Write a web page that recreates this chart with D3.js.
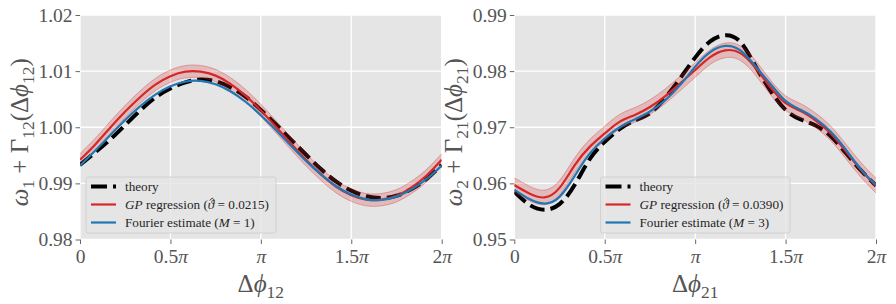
<!DOCTYPE html>
<html><head><meta charset="utf-8">
<script src="https://cdn.jsdelivr.net/npm/d3@7"></script>
<style>
body{margin:0;background:#fff}
svg{display:block}
text{font-family:"Liberation Serif","DejaVu Serif",serif}
</style>
</head><body>
<svg id="c" width="896" height="304"></svg>
<script>
// ---- data (phase in units of pi) ----
const phaseOverPi = [0, 1/12, 2/12, 3/12, 4/12, 5/12, 6/12, 7/12, 8/12, 9/12, 10/12, 11/12, 1,
  13/12, 14/12, 15/12, 16/12, 17/12, 18/12, 19/12, 20/12, 21/12, 22/12, 23/12, 2];

const xTickValues = [0, 0.5, 1, 1.5, 2];
const xTickLabels = ["0", "0.5π", "π", "1.5π", "2π"];

// left panel: omega_1 + Gamma_12
const yTicks1 = [0.98, 0.99, 1.00, 1.01, 1.02];
const theory1 = [0.9933,0.9955,0.9978,1.0004,1.0030,1.0053,1.0069,1.0080,1.0085,1.0082,1.0071,1.0054,1.0031,
  1.0005,0.9978,0.9951,0.9925,0.9903,0.9887,0.9877,0.9874,0.9878,0.9890,0.9908,0.9933];
const gp1 = [0.9942,0.9969,0.9999,1.0028,1.0054,1.0076,1.0091,1.0099,1.0099,1.0092,1.0077,1.0056,1.0030,
  1.0001,0.9971,0.9942,0.9916,0.9894,0.9879,0.9871,0.9871,0.9878,0.9893,0.9914,0.9942];
const gpStd1 = [0.0011,0.0011,0.0011,0.0011,0.0011,0.0011,0.0011,0.0011,0.0011,0.0011,0.0011,0.0011,0.0011,
  0.0011,0.0011,0.0011,0.0011,0.0011,0.0011,0.0011,0.0011,0.0011,0.0011,0.0011,0.0011];
const fourier1 = [0.99315,0.99580,0.99858,1.00129,1.00376,1.00581,1.00730,1.00814,1.00826,1.00766,1.00637,1.00450,1.00215,
  0.99950,0.99672,0.99401,0.99154,0.98949,0.98800,0.98716,0.98704,0.98764,0.98893,0.99080,0.99315];

// right panel: omega_2 + Gamma_21
const yTicks2 = [0.95, 0.96, 0.97, 0.98, 0.99];
const theory2 = [0.9585,0.9562,0.9553,0.9563,0.9597,0.9643,0.9674,0.9697,0.9712,0.9725,0.9752,0.9787,0.9824,
  0.9853,0.9864,0.9852,0.9809,0.9765,0.9731,0.9714,0.9703,0.9684,0.9654,0.9623,0.9596];
const gp2 = [0.9597,0.9582,0.9575,0.9592,0.9632,0.9665,0.9689,0.9710,0.9722,0.9736,0.9755,0.9778,0.9802,
  0.9825,0.9837,0.9832,0.9806,0.9771,0.9743,0.9729,0.9712,0.9689,0.9657,0.9624,0.9596];
const gpStd2 = [0.0013,0.0013,0.0013,0.0013,0.0013,0.0013,0.0013,0.0013,0.0013,0.0013,0.0013,0.0013,0.0013,
  0.0013,0.0013,0.0013,0.0013,0.0013,0.0013,0.0013,0.0013,0.0013,0.0013,0.0013,0.0013];
const fourier2 = [0.9589,0.9572,0.9564,0.9576,0.9613,0.9653,0.9680,0.9700,0.9714,0.9728,0.9748,0.9775,0.9808,
  0.9834,0.9845,0.9837,0.9809,0.9777,0.9747,0.9731,0.9715,0.9692,0.9660,0.9625,0.9597];

const legendNames = ["theory", "regression", "Fourier estimate"];
const thetaHat1 = "0.0215", thetaHat2 = "0.0390";
const fourierM1 = "1", fourierM2 = "3";

// ---- drawing ----
const svg = d3.select("#c");
const RED = "#d62728", BLUE = "#1f77b4";

// main symbol followed by a subscript; returns the dy to apply to the next tspan
function addSub(t, main, sub, italic, size) {
  if (main) {
    const a = t.append("tspan").text(main);
    if (italic) a.attr("font-style", "italic");
  }
  t.append("tspan").attr("font-size", size * 0.7).attr("dy", size * 0.22).text(sub);
  return -size * 0.22;
}

function panel(cfg, idx) {
  const x = d3.scaleLinear().domain([0, 2]).range([cfg.x0, cfg.x1]);
  const y = d3.scaleLinear().domain([cfg.yTicks[0], cfg.yTicks[cfg.yTicks.length - 1]]).range([cfg.y1, cfg.y0]);
  const g = svg.append("g");
  g.append("rect").attr("x", cfg.x0).attr("y", cfg.y0).attr("width", cfg.x1 - cfg.x0).attr("height", cfg.y1 - cfg.y0)
    .attr("fill", "#E5E5E5");
  const clipId = "clip" + idx;
  g.append("clipPath").attr("id", clipId).append("rect")
    .attr("x", cfg.x0).attr("y", cfg.y0).attr("width", cfg.x1 - cfg.x0).attr("height", cfg.y1 - cfg.y0);

  // grid
  g.selectAll(".gx").data(xTickValues).join("line")
    .attr("x1", d => x(d)).attr("x2", d => x(d)).attr("y1", cfg.y0).attr("y2", cfg.y1)
    .attr("stroke", "#fff").attr("stroke-width", 1.3);
  g.selectAll(".gy").data(cfg.yTicks).join("line")
    .attr("y1", d => y(d)).attr("y2", d => y(d)).attr("x1", cfg.x0).attr("x2", cfg.x1)
    .attr("stroke", "#fff").attr("stroke-width", 1.3);

  // axes
  const ax = g.append("g").attr("transform", `translate(0,${cfg.y1})`)
    .call(d3.axisBottom(x).tickValues(xTickValues).tickSize(4.5).tickPadding(5).tickFormat((d, i) => xTickLabels[i]));
  const ay = g.append("g").attr("transform", `translate(${cfg.x0},0)`)
    .call(d3.axisLeft(y).tickValues(cfg.yTicks).tickSize(4.5).tickPadding(3).tickFormat(d3.format(".2f")));
  [ax, ay].forEach(a => {
    a.select(".domain").remove();
    a.selectAll(".tick line").attr("stroke", "#555").attr("stroke-width", 0.9);
    a.selectAll(".tick text").attr("fill", "#555").attr("font-size", 19.5)
      .attr("font-family", '"Liberation Serif","DejaVu Serif",serif');
  });
  ax.selectAll(".tick text").each(function (d, i) {
    const t = d3.select(this);
    const lab = xTickLabels[i];
    t.text(null);
    const parts = lab.split("π");
    if (parts[0]) t.append("tspan").text(parts[0]);
    if (lab.includes("π")) t.append("tspan").attr("font-style", "italic").text("π");
  });

  const plot = g.append("g").attr("clip-path", `url(#${clipId})`);
  const line = d3.line().x((d, i) => x(phaseOverPi[i])).y(d => y(d)).curve(d3.curveNatural);
  const area = d3.area().x((d, i) => x(phaseOverPi[i]))
    .y0((d, i) => y(cfg.gp[i] - cfg.gpStd[i])).y1((d, i) => y(cfg.gp[i] + cfg.gpStd[i])).curve(d3.curveNatural);
  const upper = d3.line().x((d, i) => x(phaseOverPi[i])).y((d, i) => y(cfg.gp[i] + cfg.gpStd[i])).curve(d3.curveNatural);
  const lower = d3.line().x((d, i) => x(phaseOverPi[i])).y((d, i) => y(cfg.gp[i] - cfg.gpStd[i])).curve(d3.curveNatural);

  plot.append("path").datum(cfg.theory).attr("d", line).attr("fill", "none")
    .attr("stroke", "#000").attr("stroke-width", 4).attr("stroke-dasharray", "15,6");
  plot.append("path").datum(cfg.gp).attr("d", area).attr("fill", RED).attr("fill-opacity", 0.22);
  plot.append("path").datum(cfg.gp).attr("d", upper).attr("fill", "none").attr("stroke", RED).attr("stroke-opacity", 0.35).attr("stroke-width", 1);
  plot.append("path").datum(cfg.gp).attr("d", lower).attr("fill", "none").attr("stroke", RED).attr("stroke-opacity", 0.35).attr("stroke-width", 1);
  plot.append("path").datum(cfg.gp).attr("d", line).attr("fill", "none").attr("stroke", RED).attr("stroke-width", 2.2);
  plot.append("path").datum(cfg.fourier).attr("d", line).attr("fill", "none").attr("stroke", BLUE).attr("stroke-width", 2.2);

  // legend
  const L = cfg.legend;
  const lg = g.append("g");
  lg.append("rect").attr("x", L.x).attr("y", L.y).attr("width", L.w).attr("height", L.h).attr("rx", 2)
    .attr("fill", "#E5E5E5").attr("fill-opacity", 0.8).attr("stroke", "#CCCCCC").attr("stroke-width", 0.8);
  const rowY = [L.y + 9.5, L.y + 27.5, L.y + 45.5];
  const hx0 = L.x + 5, hx1 = L.x + 30, tx = L.x + 39;
  lg.append("line").attr("x1", hx0).attr("x2", hx1).attr("y1", rowY[0]).attr("y2", rowY[0])
    .attr("stroke", "#000").attr("stroke-width", 4).attr("stroke-dasharray", "16,6");
  lg.append("line").attr("x1", hx0).attr("x2", hx1).attr("y1", rowY[1]).attr("y2", rowY[1])
    .attr("stroke", RED).attr("stroke-width", 2.2);
  lg.append("line").attr("x1", hx0).attr("x2", hx1).attr("y1", rowY[2]).attr("y2", rowY[2])
    .attr("stroke", BLUE).attr("stroke-width", 2.2);
  const fs = 13.2;
  const t0 = lg.append("text").attr("x", tx).attr("y", rowY[0] + 4.5).attr("font-size", fs).attr("fill", "#262626");
  t0.text(legendNames[0]);
  const t1 = lg.append("text").attr("x", tx).attr("y", rowY[1] + 4.5).attr("font-size", fs).attr("fill", "#262626");
  t1.append("tspan").attr("font-style", "italic").text("GP");
  t1.append("tspan").text(" " + legendNames[1] + " (");
  t1.append("tspan").attr("font-style", "italic").text("ϑ");
  t1.append("tspan").text(" = " + cfg.thetaHat + ")");
  // hat over theta, drawn as a small caret path above the measured glyph
  const str = t1.text();
  const ci = str.indexOf("ϑ");
  const ext = t1.node().getExtentOfChar(ci);
  const hcx = ext.x + ext.width / 2 + 1.2, hy = rowY[1] - 5.8;
  lg.append("path").attr("d", `M${hcx - 2.6},${hy + 1.8}L${hcx},${hy - 0.6}L${hcx + 2.6},${hy + 1.8}`)
    .attr("fill", "none").attr("stroke", "#262626").attr("stroke-width", 0.9);
  const t2 = lg.append("text").attr("x", tx).attr("y", rowY[2] + 4.5).attr("font-size", fs).attr("fill", "#262626");
  t2.append("tspan").text(legendNames[2] + " (");
  t2.append("tspan").attr("font-style", "italic").text("M");
  t2.append("tspan").text(" = " + cfg.M + ")");

  // axis labels
  const LS = 25;
  const xl = g.append("text").attr("x", (cfg.x0 + cfg.x1) / 2).attr("y", 292).attr("text-anchor", "middle")
    .attr("font-size", LS).attr("fill", "#555");
  xl.append("tspan").text("Δ");
  addSub(xl, "ϕ", cfg.sub, true, LS);

  const yl = g.append("text").attr("transform", `translate(${cfg.x0 - 52},${(cfg.y0 + cfg.y1) / 2 + 5}) rotate(-90)`)
    .attr("text-anchor", "middle").attr("font-size", LS).attr("fill", "#555");
  let dy = addSub(yl, "ω", cfg.osub, true, LS);
  yl.append("tspan").attr("dy", dy).text(" + Γ");
  dy = addSub(yl, "", cfg.sub, false, LS);
  yl.append("tspan").attr("dy", dy).text("(Δ");
  dy = addSub(yl, "ϕ", cfg.sub, true, LS);
  yl.append("tspan").attr("dy", dy).text(")");
}

panel({x0: 80, x1: 441.7, y0: 15, y1: 239.5, yTicks: yTicks1, theory: theory1, gp: gp1, gpStd: gpStd1, fourier: fourier1,
  legend: {x: 86, y: 177, w: 190, h: 56}, thetaHat: thetaHat1, M: fourierM1, sub: "12", osub: "1"}, 1);
panel({x0: 514.3, x1: 876, y0: 15, y1: 239.5, yTicks: yTicks2, theory: theory2, gp: gp2, gpStd: gpStd2, fourier: fourier2,
  legend: {x: 600.5, y: 177, w: 189.5, h: 56}, thetaHat: thetaHat2, M: fourierM2, sub: "21", osub: "2"}, 2);
</script>
</body></html>
